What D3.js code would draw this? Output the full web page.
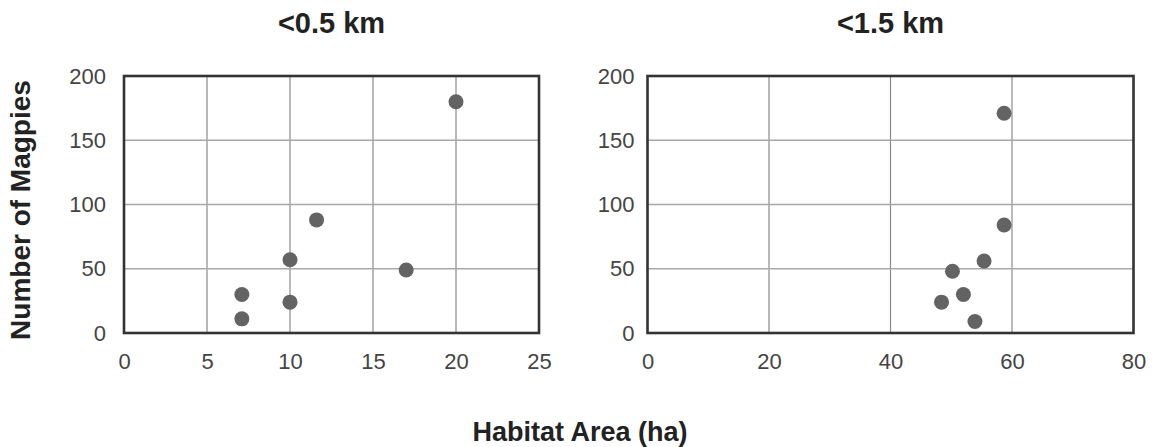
<!DOCTYPE html>
<html>
<head>
<meta charset="utf-8">
<script src="https://cdn.jsdelivr.net/npm/d3@7"></script>
<style>
  body { margin: 0; background: #fff; }
  svg { display: block; font-family: "Liberation Sans", Arial, sans-serif; }
</style>
</head>
<body>
<svg id="chart"></svg>
<script>
var width = 1152,
	height = 447;

// panel titles
var titles = ["<0.5 km", "<1.5 km"];

// x ticks for each panel
var xTicksNear = [0, 5, 10, 15, 20, 25];
var xTicksFar = [0, 20, 40, 60, 80];
var yTicks = [0, 50, 100, 150, 200];

// <0.5 km : habitat area (ha), magpie counts
var areaNear = [20, 11.6, 10, 17, 7.1, 10, 7.1];
var magpiesNear = [180, 88, 57, 49, 30, 24, 11];

// <1.5 km
var areaFar = [58.7, 58.7, 55.4, 50.2, 52, 48.4, 53.9];
var magpiesFar = [171, 84, 56, 48, 30, 24, 9];

var svg = d3.select("#chart")
	.attr("width", width)
	.attr("height", height);

var panels = [
	{ title: titles[0], x0: 124, x1: 539, xMax: 25, xTicks: xTicksNear, pad: 18, xs: areaNear, ys: magpiesNear },
	{ title: titles[1], x0: 647.5, x1: 1133.5, xMax: 80, xTicks: xTicksFar, pad: 13, xs: areaFar, ys: magpiesFar }
];

var plotTop = 76, plotBottom = 333;

var y = d3.scaleLinear()
	.domain([0, 200])
	.range([plotBottom, plotTop]);

panels.forEach(function (p) {
	var x = d3.scaleLinear()
		.domain([0, p.xMax])
		.range([p.x0, p.x1]);

	var g = svg.append("g");

	// grid
	g.append("g")
		.selectAll("line")
		.data(p.xTicks.slice(1, -1))
		.enter()
		.append("line")
		.attr("x1", function (d) { return x(d); })
		.attr("x2", function (d) { return x(d); })
		.attr("y1", plotTop)
		.attr("y2", plotBottom)
		.attr("stroke", "#8a8a8a")
		.attr("stroke-width", 1.2);

	g.append("g")
		.selectAll("line")
		.data(yTicks.slice(1, -1))
		.enter()
		.append("line")
		.attr("x1", p.x0)
		.attr("x2", p.x1)
		.attr("y1", function (d) { return y(d); })
		.attr("y2", function (d) { return y(d); })
		.attr("stroke", "#a8a8a8")
		.attr("stroke-width", 1.4);

	// frame
	g.append("rect")
		.attr("x", p.x0)
		.attr("y", plotTop)
		.attr("width", p.x1 - p.x0)
		.attr("height", plotBottom - plotTop)
		.attr("fill", "none")
		.attr("stroke", "#333")
		.attr("stroke-width", 2.6);

	// axes, labels only
	var xAxis = d3.axisBottom(x)
		.tickValues(p.xTicks)
		.tickSize(0)
		.tickPadding(20);

	var gX = g.append("g")
		.attr("transform", "translate(0," + plotBottom + ")")
		.call(xAxis);

	var yAxis = d3.axisLeft(y)
		.tickValues(yTicks)
		.tickSize(0)
		.tickPadding(p.pad);

	var gY = g.append("g")
		.attr("transform", "translate(" + p.x0 + ",0)")
		.call(yAxis);

	[gX, gY].forEach(function (a) {
		a.select(".domain").remove();
		a.selectAll(".tick text")
			.style("font-size", "22px")
			.style("font-family", "\"Liberation Sans\", Arial, sans-serif")
			.attr("fill", "#444");
	});

	// points
	g.append("g")
		.selectAll("circle")
		.data(p.xs)
		.enter()
		.append("circle")
		.attr("cx", function (d) { return x(d); })
		.attr("cy", function (d, i) { return y(p.ys[i]); })
		.attr("r", 7.5)
		.attr("fill", "#636363");

	g.append("text")
		.attr("x", (p.x0 + p.x1) / 2)
		.attr("y", 33)
		.attr("text-anchor", "middle")
		.style("font-size", "29px")
		.style("font-weight", "bold")
		.attr("fill", "#222")
		.text(p.title);
});

svg.append("text")
	.attr("transform", "translate(30,210) rotate(-90)")
	.attr("text-anchor", "middle")
	.style("font-size", "28px")
	.style("font-weight", "bold")
	.attr("fill", "#222")
	.text("Number of Magpies");

svg.append("text")
	.attr("x", 580)
	.attr("y", 441)
	.attr("text-anchor", "middle")
	.style("font-size", "27px")
	.style("font-weight", "bold")
	.attr("fill", "#222")
	.text("Habitat Area (ha)");
</script>
</body>
</html>
